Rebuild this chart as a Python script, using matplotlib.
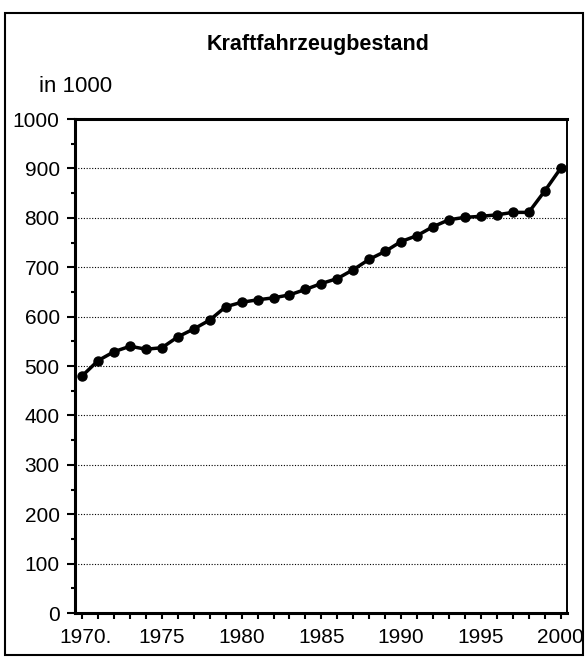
import numpy as np
import matplotlib.pyplot as plt
import matplotlib.transforms as mtransforms
from matplotlib.ticker import MultipleLocator
from matplotlib.patches import Rectangle

years = list(range(1970, 2001))
bestand = [480, 511, 529, 540, 534, 537, 559, 575, 593, 620,
           629, 634, 638, 644, 655, 667, 677, 695, 716, 732,
           752, 764, 782, 796, 801, 803, 806, 811, 811, 854, 900]
xlabels = ['1970.', '1975', '1980', '1985', '1990', '1995', '2000']

plt.rcParams['font.family'] = ['Liberation Sans', 'DejaVu Sans']

fig = plt.figure(figsize=(5.85, 6.59), dpi=100)
ax = fig.add_axes([0.1282, 0.0698, 0.841, 0.7496])

ax.plot(years, bestand, color='black', lw=2.5, marker='o', ms=6.5)

ax.set_ylim(0, 1000)
ax.set_xlim(1969.55, 2000.4)
ax.yaxis.set_major_locator(MultipleLocator(100))
ax.yaxis.set_minor_locator(MultipleLocator(50))
ax.set_xticks(range(1970, 2001, 5))
ax.set_xticklabels(xlabels)
ax.xaxis.set_minor_locator(MultipleLocator(1))
ax.tick_params(axis='both', which='major', labelsize=15, width=1.5, direction='out', colors='black')
ax.tick_params(axis='y', which='major', length=6, pad=5)
ax.tick_params(axis='y', which='minor', length=3, width=1.5, direction='out')
ax.tick_params(axis='x', which='both', length=4, width=1.5, direction='out')
ax.tick_params(axis='x', which='major', pad=7)

# shift "1970." a bit so the digits sit under the tick
lbl = ax.get_xticklabels()[0]
lbl.set_transform(lbl.get_transform() + mtransforms.ScaledTranslation(3/100, 0, fig.dpi_scale_trans))

for v in range(100, 1000, 100):
    ax.axhline(v, color='black', lw=0.8, ls=(0, (1, 1.5)))

ax.spines['left'].set_linewidth(2.2)
ax.spines['bottom'].set_linewidth(2.2)
ax.spines['top'].set_linewidth(2.2)
ax.spines['right'].set_linewidth(1.4)

fig.text(0.543, 0.933, 'Kraftfahrzeugbestand', ha='center', va='center', fontsize=15.5, fontweight='bold')
fig.text(0.066, 0.869, 'in 1000', ha='left', va='center', fontsize=16)

fig.patches.append(Rectangle((0.009, 0.006), 0.987, 0.975, transform=fig.transFigure,
                             fill=False, edgecolor='black', lw=1.5))

fig.savefig('out.png', dpi=100)
